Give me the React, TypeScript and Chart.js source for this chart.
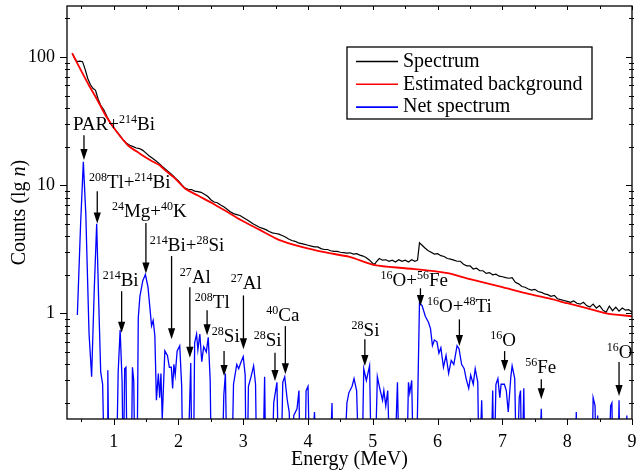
import React, { useEffect, useRef } from "react";
import { Chart, registerables } from "chart.js";

Chart.register(...registerables);

// ---------- data ----------
const specEnergy = [
  0.36, 0.4, 0.44, 0.48, 0.52, 0.56, 0.6, 0.64, 0.68, 0.72, 0.76, 0.8, 0.85, 0.9, 0.95, 1.0, 1.05, 1.1, 1.15, 1.2,
  1.25, 1.3, 1.35, 1.4, 1.45, 1.5, 1.55, 1.6, 1.65, 1.7, 1.75, 1.8, 1.85, 1.9, 1.95, 2.0, 2.05, 2.1, 2.15, 2.2,
  2.25, 2.3, 2.35, 2.4, 2.45, 2.5, 2.55, 2.6, 2.65, 2.7, 2.75, 2.8, 2.85, 2.9, 2.95, 3.0, 3.05, 3.1, 3.15, 3.2,
  3.25, 3.3, 3.35, 3.4, 3.45, 3.5, 3.55, 3.6, 3.65, 3.7, 3.75, 3.8, 3.85, 3.9, 3.95, 4.0, 4.05, 4.1, 4.15, 4.2,
  4.25, 4.3, 4.35, 4.4, 4.45, 4.5, 4.55, 4.6, 4.65, 4.7, 4.75, 4.8, 4.85, 4.9, 4.95, 5.0, 5.03, 5.06, 5.1, 5.15,
  5.2, 5.25, 5.3, 5.35, 5.4, 5.45, 5.5, 5.55, 5.6, 5.65, 5.69, 5.72, 5.76, 5.8, 5.85, 5.9, 5.95, 6.0, 6.05, 6.1,
  6.15, 6.2, 6.25, 6.3, 6.35, 6.4, 6.45, 6.5, 6.55, 6.6, 6.65, 6.7, 6.75, 6.8, 6.85, 6.9, 6.95, 7.0, 7.05, 7.1,
  7.15, 7.2, 7.25, 7.3, 7.35, 7.4, 7.45, 7.5, 7.55, 7.6, 7.65, 7.7, 7.75, 7.8, 7.85, 7.9, 7.95, 8.0, 8.05, 8.1,
  8.15, 8.2, 8.25, 8.3, 8.35, 8.4, 8.45, 8.5, 8.55, 8.6, 8.65, 8.7, 8.75, 8.8, 8.85, 8.9, 8.95, 9.0,
];
const specCounts = [
  107, 97, 92, 93, 92, 80, 68, 61, 57, 55, 47, 42, 38.5, 34, 30.5, 28, 26.2, 24.3, 22.5, 21.2,
  20.5, 20, 19.5, 19.3, 18.7, 17.8, 16.9, 16.2, 15.5, 14.8, 14.0, 13.3, 12.7, 12.1, 11.4, 10.8, 10.1, 9.5, 9.3, 9.25,
  9.0, 8.9, 8.8, 8.5, 8.2, 7.7, 7.4, 7.3, 7.0, 6.8, 6.5, 6.2, 6.0, 5.9, 5.8, 5.6, 5.4, 5.2, 5.0, 4.85,
  4.7, 4.6, 4.5, 4.35, 4.25, 4.2, 4.15, 4.05, 3.95, 3.8, 3.7, 3.65, 3.55, 3.5, 3.45, 3.4, 3.35, 3.3, 3.3, 3.2,
  3.15, 3.15, 3.08, 3.05, 3.05, 3.0, 2.98, 2.95, 2.97, 2.9, 2.92, 2.85, 2.8, 2.72, 2.6, 2.45, 2.42, 2.55, 2.68, 2.6,
  2.62, 2.55, 2.6, 2.52, 2.62, 2.55, 2.6, 2.52, 2.62, 2.55, 2.6, 3.55, 3.4, 3.25, 3.1, 3.0, 2.9, 2.92, 2.82, 2.78,
  2.68, 2.65, 2.6, 2.55, 2.55, 2.42, 2.35, 2.35, 2.22, 2.25, 2.15, 2.15, 2.05, 2.08, 2.0, 2.02, 1.95, 1.93, 1.9, 1.88,
  1.9, 1.75, 1.7, 1.62, 1.6, 1.55, 1.52, 1.54, 1.48, 1.46, 1.42, 1.4, 1.36, 1.38, 1.3, 1.28, 1.26, 1.24, 1.22, 1.25,
  1.2, 1.18, 1.22, 1.15, 1.12, 1.18, 1.1, 1.15, 1.06, 1.02, 1.14, 1.05, 1.12, 1.04, 1.1, 1.06, 1.07, 1.02,
];

const bgEnergy = [
  0.36, 0.5, 0.62, 0.75, 0.89, 1.05, 1.22, 1.4, 1.6, 1.71, 1.8, 1.92, 2.0, 2.1, 2.3, 2.53, 2.75, 2.97, 3.25, 3.56,
  3.9, 4.25, 4.64, 5.03, 5.5, 6.0, 6.18, 6.5, 7.0, 7.4, 7.72, 8.0, 8.3, 8.6, 9.0,
];
const bgCounts = [
  107, 78, 60, 46, 34, 26, 20.5, 17.7, 15.3, 14.3, 13.0, 11.6, 10.6, 9.43, 8.3, 7.2, 6.2, 5.33, 4.5, 3.73,
  3.3, 3.0, 2.76, 2.38, 2.25, 2.12, 2.05, 1.85, 1.6, 1.42, 1.31, 1.2, 1.1, 1.0, 0.95,
];

const netEnergy = [
  0.44, 0.49, 0.532, 0.57, 0.62, 0.66, 0.7, 0.738, 0.77, 0.8, 0.83, 0.86, 0.9, 0.91, 0.93, 1.04, 1.07, 1.1, 1.13, 1.15,
  1.17, 1.19, 1.21, 1.27, 1.29, 1.31, 1.33, 1.36, 1.38, 1.405, 1.45, 1.49, 1.53, 1.56, 1.585, 1.61, 1.636, 1.66, 1.69, 1.71,
  1.73, 1.75, 1.79, 1.83, 1.86, 1.89, 1.91, 1.93, 1.95, 1.98, 2.02, 2.05, 2.07, 2.14, 2.19, 2.21, 2.23, 2.25, 2.28, 2.3,
  2.33, 2.36, 2.39, 2.43, 2.46, 2.49, 2.51, 2.67, 2.7, 2.725, 2.75, 2.82, 2.85, 2.9, 2.93, 2.96, 3.0, 3.03, 3.045, 3.06,
  3.08, 3.12, 3.16, 3.19, 3.21, 3.3, 3.33, 3.35, 3.44, 3.47, 3.52, 3.55, 3.58, 3.61, 3.64, 3.68, 3.71, 3.74, 3.78, 3.83,
  3.86, 3.88, 3.95, 3.97, 4.0, 4.03, 4.1, 4.13, 4.33, 4.37, 4.39, 4.55, 4.6, 4.63, 4.68, 4.71, 4.75, 4.79, 4.83, 4.86,
  4.9, 4.95, 4.98, 5.03, 5.07, 5.1, 5.15, 5.17, 5.2, 5.23, 5.27, 5.33, 5.38, 5.41, 5.52, 5.55, 5.57, 5.6, 5.63, 5.67,
  5.72, 5.76, 5.81, 5.86, 5.89, 5.92, 5.95, 5.99, 6.02, 6.05, 6.09, 6.13, 6.17, 6.21, 6.25, 6.3, 6.33, 6.37, 6.41, 6.44,
  6.48, 6.51, 6.55, 6.58, 6.62, 6.64, 6.68, 6.71, 6.82, 6.85, 6.87, 6.9, 6.93, 6.96, 6.98, 7.03, 7.06, 7.09, 7.13, 7.15,
  7.19, 7.22, 7.26, 7.28, 7.3, 7.33, 7.35, 7.56, 7.6, 7.63, 8.12, 8.14, 8.16, 8.38, 8.4, 8.43, 8.45, 8.47, 8.49, 8.64,
  8.67, 8.69, 8.71, 8.78, 8.8, 8.82, 8.9, 8.92, 8.94, 9.0,
];
const netCounts = [
  0.97, 5.0, 15.2, 6.0, 0.7, 0.32, 1.5, 5.0, 1.2, 0.35, 0.28, 0.05, 0.05, 0.36, 0.05, 0.05, 0.35, 0.74, 0.3, 0.05,
  0.37, 0.38, 0.05, 0.05, 0.38, 0.3, 0.05, 0.05, 0.92, 1.36, 1.8, 2.01, 1.6, 1.1, 0.8, 0.88, 0.67, 0.21, 0.34, 0.22,
  0.34, 0.15, 0.51, 0.47, 0.38, 0.38, 0.26, 0.4, 0.33, 0.51, 0.56, 0.27, 0.05, 0.05, 0.41, 0.05, 0.05, 0.59, 0.69, 0.52,
  0.69, 0.42, 0.55, 0.5, 0.65, 0.3, 0.05, 0.05, 0.23, 0.34, 0.05, 0.05, 0.28, 0.4, 0.37, 0.41, 0.46, 0.33, 0.05, 0.05,
  0.27, 0.32, 0.39, 0.28, 0.05, 0.05, 0.32, 0.05, 0.05, 0.2, 0.29, 0.05, 0.05, 0.29, 0.32, 0.21, 0.17, 0.05, 0.16, 0.18,
  0.25, 0.05, 0.05, 0.25, 0.27, 0.05, 0.17, 0.05, 0.05, 0.2, 0.05, 0.05, 0.2, 0.24, 0.27, 0.31, 0.25, 0.05, 0.05, 0.37,
  0.3, 0.39, 0.05, 0.05, 0.32, 0.27, 0.21, 0.25, 0.19, 0.25, 0.05, 0.05, 0.29, 0.05, 0.05, 0.29, 0.24, 0.3, 0.05, 0.05,
  1.21, 1.15, 0.95, 0.85, 0.76, 0.56, 0.62, 0.6, 0.49, 0.54, 0.38, 0.47, 0.34, 0.43, 0.4, 0.56, 0.53, 0.4, 0.37, 0.31,
  0.26, 0.33, 0.28, 0.37, 0.29, 0.05, 0.21, 0.05, 0.05, 0.25, 0.05, 0.28, 0.31, 0.22, 0.28, 0.28, 0.25, 0.17, 0.32, 0.39,
  0.31, 0.05, 0.22, 0.25, 0.05, 0.26, 0.05, 0.05, 0.18, 0.05, 0.05, 0.17, 0.05, 0.05, 0.22, 0.19, 0.05, 0.16, 0.05, 0.05,
  0.19, 0.2, 0.05, 0.05, 0.21, 0.05, 0.05, 0.16, 0.05, 0.05,
];

const xTickValues = [1, 2, 3, 4, 5, 6, 7, 8, 9];
const yTickValues = [1, 10, 100];
const seriesNames = ["Spectrum", "Estimated background", "Net spectrum"];
const seriesColors = ["#000000", "#ff0000", "#0000ff"];

// peak annotations: arrow at energy x from tail to tip (counts), label left/baseline at (tx, ty)
const peakLabels = [
  { label: "PAR+^{214}Bi", x: 0.542, tip: 15.7, tail: 24.5, tx: 0.373, ty: 26.8 },
  { label: "^{208}Tl+^{214}Bi", x: 0.747, tip: 5.03, tail: 8.98, tx: 0.619, ty: 9.48 },
  { label: "^{24}Mg+^{40}K", x: 1.498, tip: 2.05, tail: 5.06, tx: 0.974, ty: 5.66 },
  { label: "^{214}Bi+^{28}Si", x: 1.894, tip: 0.627, tail: 2.8, tx: 1.559, ty: 3.06 },
  { label: "^{214}Bi", x: 1.123, tip: 0.706, tail: 1.49, tx: 0.831, ty: 1.63 },
  { label: "^{27}Al", x: 2.176, tip: 0.451, tail: 1.6, tx: 2.022, ty: 1.73 },
  { label: "^{208}Tl", x: 2.442, tip: 0.674, tail: 1.06, tx: 2.253, ty: 1.105 },
  { label: "^{28}Si", x: 2.704, tip: 0.325, tail: 0.508, tx: 2.515, ty: 0.597 },
  { label: "^{27}Al", x: 3.003, tip: 0.524, tail: 1.38, tx: 2.807, ty: 1.54 },
  { label: "^{28}Si", x: 3.49, tip: 0.297, tail: 0.493, tx: 3.162, ty: 0.556 },
  { label: "^{40}Ca", x: 3.65, tip: 0.335, tail: 0.796, tx: 3.357, ty: 0.871 },
  { label: "^{28}Si", x: 4.877, tip: 0.388, tail: 0.627, tx: 4.672, ty: 0.665 },
  { label: "^{16}O+^{56}Fe", x: 5.735, tip: 1.14, tail: 1.57, tx: 5.119, ty: 1.63 },
  { label: "^{16}O+^{48}Ti", x: 6.336, tip: 0.556, tail: 0.898, tx: 5.838, ty: 1.02 },
  { label: "^{16}O", x: 7.034, tip: 0.355, tail: 0.508, tx: 6.814, ty: 0.556 },
  { label: "^{56}Fe", x: 7.6, tip: 0.214, tail: 0.306, tx: 7.353, ty: 0.341 },
  { label: "^{16}O", x: 8.8, tip: 0.227, tail: 0.417, tx: 8.612, ty: 0.451 },
];

// ---------- drawing helpers ----------
const SERIF = "'Liberation Serif', 'Times New Roman', serif";
const MAIN_FONT = `19px ${SERIF}`;
const SUP_FONT = `12px ${SERIF}`;

function parseRich(s: string) {
  const parts: { t: string; sup: boolean }[] = [];
  const re = /\^\{([^}]*)\}/g;
  let last = 0;
  let m: RegExpExecArray | null;
  while ((m = re.exec(s))) {
    if (m.index > last) parts.push({ t: s.slice(last, m.index), sup: false });
    parts.push({ t: m[1], sup: true });
    last = m.index + m[0].length;
  }
  if (last < s.length) parts.push({ t: s.slice(last), sup: false });
  return parts;
}

function drawRich(ctx: CanvasRenderingContext2D, x: number, y: number, s: string) {
  let cx = x;
  ctx.textAlign = "left";
  ctx.textBaseline = "alphabetic";
  for (const p of parseRich(s)) {
    ctx.font = p.sup ? SUP_FONT : MAIN_FONT;
    ctx.fillText(p.t, cx, p.sup ? y - 7 : y);
    cx += ctx.measureText(p.t).width;
  }
}

const zeroPadding = (s: any) => {
  s.paddingTop = 0;
  s.paddingBottom = 0;
  s.paddingLeft = 0;
  s.paddingRight = 0;
};

const decorPlugin = {
  id: "decor",
  afterDraw(chart: any) {
    const ctx: CanvasRenderingContext2D = chart.ctx;
    const { left, right, top, bottom } = chart.chartArea;
    const xs = chart.scales.x;
    const ys = chart.scales.y;
    ctx.save();
    ctx.strokeStyle = "#000";
    ctx.fillStyle = "#000";

    // frame
    ctx.lineWidth = 1.3;
    ctx.strokeRect(left, top, right - left, bottom - top);

    // x ticks
    ctx.lineWidth = 1;
    ctx.beginPath();
    for (const v of xTickValues) {
      const px = Math.round(xs.getPixelForValue(v)) + 0.5;
      ctx.moveTo(px, bottom);
      ctx.lineTo(px, bottom + 6);
      ctx.moveTo(px, top);
      ctx.lineTo(px, top + 4);
      const hv = v - 0.5;
      if (hv > xs.min) {
        const ph = Math.round(xs.getPixelForValue(hv)) + 0.5;
        ctx.moveTo(ph, bottom);
        ctx.lineTo(ph, bottom + 3);
        ctx.moveTo(ph, top);
        ctx.lineTo(ph, top + 3);
      }
    }
    // y ticks
    for (let d = -1; d <= 2; d++) {
      for (let m = 1; m <= 9; m++) {
        const v = m * Math.pow(10, d);
        if (v < ys.min || v > ys.max) continue;
        const py = Math.round(ys.getPixelForValue(v)) + 0.5;
        if (m === 1) {
          ctx.moveTo(left - 7, py);
          ctx.lineTo(left, py);
          ctx.moveTo(right - 6, py);
          ctx.lineTo(right, py);
        } else {
          ctx.moveTo(left - 2, py);
          ctx.lineTo(left + 3, py);
          ctx.moveTo(right - 3, py);
          ctx.lineTo(right + 2, py);
        }
      }
    }
    ctx.stroke();

    // peak annotations
    for (const a of peakLabels) {
      const ax = xs.getPixelForValue(a.x);
      const tipY = ys.getPixelForValue(a.tip);
      const tailY = ys.getPixelForValue(a.tail);
      ctx.lineWidth = 1.3;
      ctx.beginPath();
      ctx.moveTo(ax, tailY);
      ctx.lineTo(ax, tipY - 8);
      ctx.stroke();
      ctx.beginPath();
      ctx.moveTo(ax, tipY);
      ctx.lineTo(ax - 3.6, tipY - 11);
      ctx.lineTo(ax + 3.6, tipY - 11);
      ctx.closePath();
      ctx.fill();
      drawRich(ctx, xs.getPixelForValue(a.tx), ys.getPixelForValue(a.ty), a.label);
    }

    // legend
    const lx = left + 280;
    const ly = top + 41;
    const lw = 245;
    const lh = 72;
    ctx.fillStyle = "#fff";
    ctx.fillRect(lx, ly, lw, lh);
    ctx.lineWidth = 1.3;
    ctx.strokeStyle = "#000";
    ctx.strokeRect(lx, ly, lw, lh);
    ctx.font = `20px ${SERIF}`;
    ctx.textBaseline = "middle";
    ctx.textAlign = "left";
    seriesNames.forEach((name, i) => {
      const yy = ly + 14.5 + i * 22.8;
      ctx.strokeStyle = seriesColors[i];
      ctx.lineWidth = 1.6;
      ctx.beginPath();
      ctx.moveTo(lx + 9, yy);
      ctx.lineTo(lx + 51, yy);
      ctx.stroke();
      ctx.fillStyle = "#000";
      ctx.fillText(name, lx + 56, yy);
    });

    // axis titles
    ctx.fillStyle = "#000";
    ctx.textBaseline = "alphabetic";
    ctx.font = `20px ${SERIF}`;
    ctx.textAlign = "center";
    ctx.fillText("Energy (MeV)", (left + right) / 2, 465);

    const partsY = [
      { t: "Counts (lg ", f: `20px ${SERIF}` },
      { t: "n", f: `italic 20px ${SERIF}` },
      { t: ")", f: `20px ${SERIF}` },
    ];
    let total = 0;
    for (const p of partsY) {
      ctx.font = p.f;
      total += ctx.measureText(p.t).width;
    }
    ctx.translate(25, (top + bottom) / 2);
    ctx.rotate(-Math.PI / 2);
    ctx.textAlign = "left";
    let cx = -total / 2;
    for (const p of partsY) {
      ctx.font = p.f;
      ctx.fillText(p.t, cx, 0);
      cx += ctx.measureText(p.t).width;
    }
    ctx.restore();
  },
};

export default function App() {
  const ref = useRef<HTMLCanvasElement | null>(null);
  useEffect(() => {
    document.body.style.margin = "0";
    if (!ref.current) return;
    const toPts = (xs: number[], ys: number[]) => xs.map((x, i) => ({ x, y: ys[i] }));
    const tickFont = { family: SERIF, size: 18 };
    const chart = new Chart(ref.current, {
      type: "line",
      data: {
        datasets: [
          {
            label: seriesNames[0],
            data: toPts(specEnergy, specCounts),
            borderColor: seriesColors[0],
            borderWidth: 1.2,
            pointRadius: 0,
            tension: 0,
            order: 3,
          },
          {
            label: seriesNames[1],
            data: toPts(bgEnergy, bgCounts),
            borderColor: seriesColors[1],
            borderWidth: 1.8,
            pointRadius: 0,
            tension: 0.25,
            order: 2,
          },
          {
            label: seriesNames[2],
            data: toPts(netEnergy, netCounts),
            borderColor: seriesColors[2],
            borderWidth: 1.3,
            pointRadius: 0,
            tension: 0,
            order: 1,
          },
        ],
      },
      options: {
        animation: false,
        responsive: true,
        maintainAspectRatio: false,
        layout: { padding: { top: 6, right: 4, left: 0, bottom: 0 } },
        plugins: { legend: { display: false }, tooltip: { enabled: false } },
        scales: {
          x: {
            type: "linear",
            min: 0.28,
            max: 9,
            afterFit: (s: any) => {
              s.height = 53;
              zeroPadding(s);
            },
            grid: { display: false, drawTicks: false },
            border: { display: false },
            ticks: {
              stepSize: 1,
              includeBounds: false,
              autoSkip: false,
              maxRotation: 0,
              padding: 12,
              color: "#000",
              font: tickFont,
              callback: (v: any) => (xTickValues.includes(Number(v)) ? String(v) : ""),
            },
          },
          y: {
            type: "logarithmic",
            min: 0.15,
            max: 250,
            afterFit: (s: any) => {
              s.width = 67;
              zeroPadding(s);
            },
            grid: { display: false, drawTicks: false },
            border: { display: false },
            ticks: {
              autoSkip: false,
              padding: 12,
              color: "#000",
              font: tickFont,
              callback: (v: any) => {
                const n = Number(v);
                const hit = yTickValues.find((t) => Math.abs(t - n) < 1e-9 * t);
                return hit !== undefined ? String(hit) : "";
              },
            },
          },
        },
      },
      plugins: [decorPlugin],
    } as any);
    return () => chart.destroy();
  }, []);
  return (
    <div style={{ width: 636, height: 472, position: "relative" }}>
      <canvas ref={ref} style={{ display: "block" }} />
    </div>
  );
}
